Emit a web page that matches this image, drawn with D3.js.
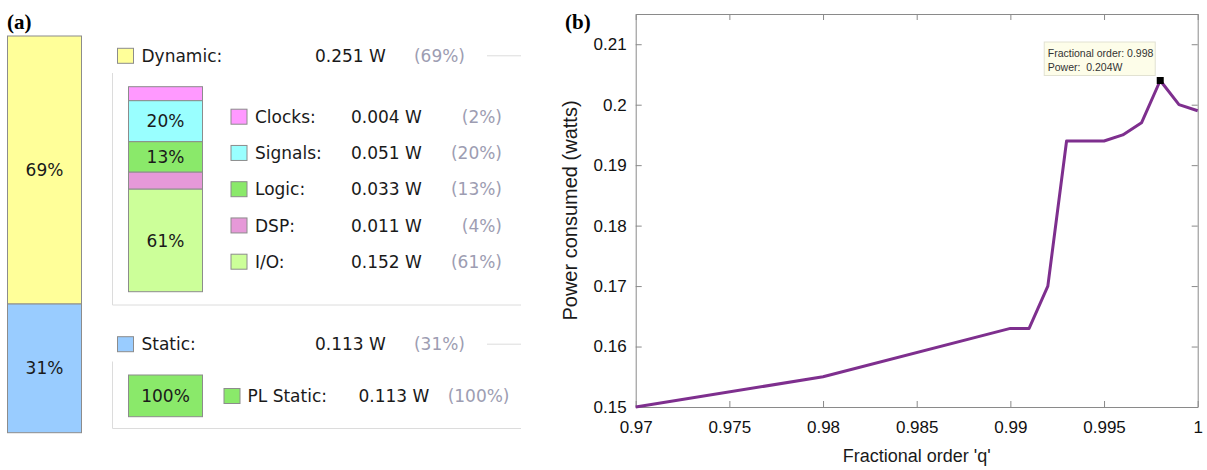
<!DOCTYPE html>
<html>
<head>
<meta charset="utf-8">
<script src="https://cdn.jsdelivr.net/npm/d3@7"></script>
<style>
  body { margin: 0; background: #fff; }
  svg { display: block; }
  .ui { font-family: "DejaVu Sans", sans-serif; font-size: 17px; fill: #1a1a1a; }
  .pct { fill: #9d9db2; }
  .plot text { font-family: "Liberation Sans", Arial, sans-serif; }
</style>
</head>
<body>
<svg width="1207" height="470"></svg>
<script>
// (a) power summary
const groupNames = ["Dynamic", "Static"];
const groupWatts = [0.251, 0.113];
const groupPct = [69, 31];

const dynNames = ["Clocks", "Signals", "Logic", "DSP", "I/O"];
const dynWatts = [0.004, 0.051, 0.033, 0.011, 0.152];
const dynPct = [2, 20, 13, 4, 61];

const staticNames = ["PL Static"];
const staticWatts = [0.113];
const staticPct = [100];

// (b) power vs fractional order
const orderQ = [0.97, 0.98, 0.99, 0.991, 0.992, 0.993, 0.994, 0.995, 0.996, 0.997, 0.998, 0.999, 1.0];
const powerW = [0.150, 0.155, 0.163, 0.163, 0.170, 0.194, 0.194, 0.194, 0.195, 0.197, 0.204, 0.200, 0.199];
const xTicks = [0.97, 0.975, 0.98, 0.985, 0.99, 0.995, 1];
const xTickLabels = ["0.97", "0.975", "0.98", "0.985", "0.99", "0.995", "1"];
const yTicks = [0.15, 0.16, 0.17, 0.18, 0.19, 0.2, 0.21];
const yTickLabels = ["0.15", "0.16", "0.17", "0.18", "0.19", "0.2", "0.21"];
const tipIndex = 10;

// colours
const groupColors = ["#ffff99", "#99ccff"];
const dynColors = ["#ff99ff", "#99ffff", "#8ae96a", "#e699d8", "#ccff99"];
const staticColors = ["#8ae96a"];

const svg = d3.select("svg");

// stacked segments: each one gets a fixed pad plus a share of the rest
function stack(pcts, y0, y1, pad) {
  const s = d3.scaleLinear()
    .domain([0, d3.sum(pcts)])
    .range([0, (y1 - y0) - pad * pcts.length]);
  let acc = y0;
  return pcts.map(function(p) {
    const h = pad + s(p);
    const seg = { y: acc, h: h, pct: p };
    acc += h;
    return seg;
  });
}

function drawBar(g, segs, colors, x0, x1, minLabel) {
  g.selectAll(null)
    .data(segs)
    .enter()
    .append("rect")
    .attr("x", x0)
    .attr("y", d => d.y)
    .attr("width", x1 - x0)
    .attr("height", d => d.h)
    .attr("fill", (d, i) => colors[i])
    .attr("stroke", "#8c8c8c")
    .attr("stroke-width", 1);
  g.selectAll(null)
    .data(segs.filter(d => d.pct >= minLabel))
    .enter()
    .append("text")
    .attr("class", "ui")
    .attr("x", (x0 + x1) / 2)
    .attr("y", d => d.y + d.h / 2)
    .attr("dy", "0.36em")
    .attr("text-anchor", "middle")
    .text(d => d.pct + "%");
}

function legendRow(g, cy, color, label, watts, pct, xs) {
  g.append("rect")
    .attr("x", xs.box).attr("y", cy - 7.5)
    .attr("width", 16).attr("height", 15)
    .attr("fill", color).attr("stroke", "#8c8c8c");
  g.append("text").attr("class", "ui")
    .attr("x", xs.name).attr("y", cy).attr("dy", "0.36em")
    .text(label + ":");
  g.append("text").attr("class", "ui")
    .attr("x", xs.val).attr("y", cy).attr("dy", "0.36em")
    .text(watts.toFixed(3) + " W");
  g.append("text").attr("class", "ui pct")
    .attr("x", xs.pct).attr("y", cy).attr("dy", "0.36em")
    .attr("text-anchor", "end")
    .text("(" + pct + "%)");
}

// ---- panel (a)
const a = svg.append("g");

a.append("text")
  .attr("x", 7).attr("y", 29)
  .style("font-family", "'Liberation Serif', serif")
  .style("font-weight", "bold")
  .style("font-size", "21px")
  .text("(a)");

drawBar(a, stack(groupPct, 36, 432.7, 15), groupColors, 7.5, 81.5, 10);

const headerY = [55.8, 344.2];
const headXs = { box: 117.5, name: 141.5, val: 315, pct: 465 };
groupNames.forEach(function(name, i) {
  legendRow(a, headerY[i], groupColors[i], name, groupWatts[i], groupPct[i], headXs);
  a.append("line")
    .attr("x1", 487).attr("x2", 521)
    .attr("y1", headerY[i]).attr("y2", headerY[i])
    .attr("stroke", "#dcdcdc");
});

// group frames
[[73, 305], [361.5, 428.5]].forEach(function(f) {
  a.append("path")
    .attr("d", "M112.5," + f[0] + "V" + f[1] + "H521")
    .attr("fill", "none")
    .attr("stroke", "#dcdcdc");
});

// dynamic breakdown
drawBar(a, stack(dynPct, 86.7, 291.7, 11), dynColors, 128.5, 202.5, 10);
const dynXs = { box: 231, name: 255, val: 351, pct: 502 };
dynNames.forEach(function(name, i) {
  legendRow(a, 116.7 + i * 36.25, dynColors[i], name, dynWatts[i], dynPct[i], dynXs);
});

// static breakdown
drawBar(a, stack(staticPct, 375, 416.7, 11), staticColors, 128.5, 202.5, 10);
const statXs = { box: 224, name: 247.5, val: 358.5, pct: 509.5 };
staticNames.forEach(function(name, i) {
  legendRow(a, 396, staticColors[i], name, staticWatts[i], staticPct[i], statXs);
});

// ---- panel (b)
const pLeft = 635.7, pRight = 1197.7, pTop = 14, pBottom = 407;
const b = svg.append("g").attr("class", "plot");

b.append("text")
  .attr("x", 565).attr("y", 29)
  .style("font-family", "'Liberation Serif', serif")
  .style("font-weight", "bold")
  .style("font-size", "21px")
  .text("(b)");

const x = d3.scaleLinear().domain([0.97, 1]).range([pLeft, pRight]);
const y = d3.scaleLinear().domain([0.15, 0.215]).range([pBottom, pTop]);

function styleAxis(g) {
  g.attr("font-size", null).attr("font-family", null);
  g.select(".domain").attr("stroke", "#8a8a8a");
  g.selectAll(".tick line").attr("stroke", "#8a8a8a");
  g.selectAll(".tick text").style("font-size", "17px").attr("fill", "#111");
}

b.append("g")
  .attr("transform", "translate(0," + pBottom + ")")
  .call(d3.axisBottom(x).tickValues(xTicks).tickFormat((d, i) => xTickLabels[i])
    .tickSizeInner(-6).tickSizeOuter(0).tickPadding(14))
  .call(styleAxis);
b.append("g")
  .attr("transform", "translate(0," + pTop + ")")
  .call(d3.axisTop(x).tickValues(xTicks).tickFormat("")
    .tickSizeInner(-6).tickSizeOuter(0))
  .call(styleAxis);
b.append("g")
  .attr("transform", "translate(" + pLeft + ",0)")
  .call(d3.axisLeft(y).tickValues(yTicks).tickFormat((d, i) => yTickLabels[i])
    .tickSizeInner(-6).tickSizeOuter(0).tickPadding(9))
  .call(styleAxis);
b.append("g")
  .attr("transform", "translate(" + pRight + ",0)")
  .call(d3.axisRight(y).tickValues(yTicks).tickFormat("")
    .tickSizeInner(-6).tickSizeOuter(0))
  .call(styleAxis);

const line = d3.line()
  .x((d, i) => x(orderQ[i]))
  .y(d => y(d));

b.append("path")
  .datum(powerW)
  .attr("d", line)
  .attr("fill", "none")
  .attr("stroke", "#7e2f8e")
  .attr("stroke-width", 3)
  .attr("stroke-linejoin", "round");

// data tip
const mx = x(orderQ[tipIndex]), my = y(powerW[tipIndex]);
b.append("rect")
  .attr("x", mx - 3.5).attr("y", my - 3.5)
  .attr("width", 7).attr("height", 7)
  .attr("fill", "#000");

const tip = b.append("g");
tip.append("rect")
  .attr("x", mx - 116).attr("y", my - 38.5)
  .attr("width", 111).attr("height", 33.5)
  .attr("fill", "#fdfde9")
  .attr("stroke", "#e2e2d2");
tip.append("text")
  .attr("x", mx - 112.5).attr("y", my - 23.5)
  .style("font-size", "10.5px").attr("fill", "#333")
  .text("Fractional order: " + orderQ[tipIndex]);
tip.append("text")
  .attr("x", mx - 112.5).attr("y", my - 10)
  .style("font-size", "10.5px").attr("fill", "#333")
  .style("white-space", "pre")
  .text("Power:  " + powerW[tipIndex] + "W");

// axis titles
b.append("text")
  .attr("transform", "translate(" + 577 + "," + ((pTop + pBottom) / 2) + ") rotate(-90)")
  .attr("text-anchor", "middle")
  .style("font-size", "20px")
  .attr("fill", "#1a1a1a")
  .text("Power consumed (watts)");
b.append("text")
  .attr("x", (pLeft + pRight) / 2).attr("y", 462)
  .attr("text-anchor", "middle")
  .style("font-size", "18px")
  .attr("fill", "#1a1a1a")
  .text("Fractional order 'q'");
</script>
</body>
</html>
